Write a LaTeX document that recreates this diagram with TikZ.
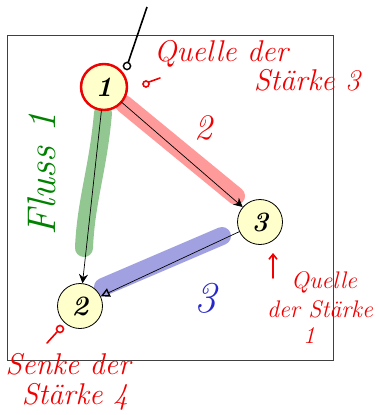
\documentclass[tikz,border=0pt]{standalone}
\usetikzlibrary{arrows.meta,calc}
\definecolor{nodefill}{RGB}{255,255,204}
\definecolor{hlred}{RGB}{255,120,120}
\definecolor{hlgreen}{RGB}{110,180,110}
\definecolor{hlblue}{RGB}{130,130,215}
\definecolor{penred}{RGB}{240,0,0}
\definecolor{pengreen}{RGB}{0,130,0}
\definecolor{penblue}{RGB}{40,40,200}
\tikzset{
  vertex/.style={circle,draw=black,line width=0.8pt,fill=nodefill,minimum size=45pt,inner sep=0pt,font=\fontsize{28}{30}\selectfont\itshape\bfseries},
  hl/.style={line width=18pt,line cap=round,opacity=0.75},
  edge/.style={draw=black,line width=0.7pt,-{Stealth[length=9pt,width=9pt]}},
  openedge/.style={draw=black,line width=0.7pt,-{Triangle[open,length=9pt,width=9pt,line width=1.4pt]}},
  redlabel/.style={text=penred,font=\fontsize{30}{32}\selectfont\itshape,inner sep=0pt},
  smallred/.style={text=penred,font=\fontsize{24}{26}\selectfont\itshape,inner sep=0pt},
  redpen/.style={draw=penred,line width=1.6pt,line cap=round}
}
\begin{document}
\begin{tikzpicture}[x=1pt,y=-1pt]
\useasboundingbox (0,0) rectangle (378,415);
% frame
\draw[draw=black!75,line width=1pt] (7,35) rectangle (333,360);
% highlighter strokes
\draw[hl,hlred] (124,104) -- (236,196);
\draw[hl,hlgreen] (103,113) .. controls (98,170) and (86,200) .. (84,248);
\draw[hl,hlblue] (103,287) -- (222,236);
% nodes
\node[vertex] (n1) at (104,87) {1};
\node[vertex] (n2) at (80,306) {2};
\node[vertex] (n3) at (260,222) {3};
\draw[draw=penred,line width=2.4pt] (n1.center) circle (23pt);
% edges
\draw[edge] (n1) -- (n3);
\draw[edge] (n1) -- (n2);
\draw[openedge] (n3) -- (n2);
% top line with small ring
\coordinate (ring) at (127,66);
\coordinate (topend) at (147,7);
\coordinate (ringtop) at (128.2,62.4);
\draw[black,line width=1.6pt] (topend) -- (ringtop);
\draw[black,line width=1.4pt] (ring) circle (3.6pt);
% labels
\node[redlabel] (q3a) at (221,54) {Quelle der};
\node[redlabel] (q3b) at (307,80) {St\"arke 3};
\draw[redpen] (146,84) circle (3pt);
\draw[redpen] (149,82) -- (160,78);
\node[text=penred,font=\fontsize{36}{36}\selectfont\itshape] (l2) at (203,128) {2};
\node[text=pengreen,font=\fontsize{40}{40}\selectfont\itshape,rotate=90] (fl) at (42,174) {Fluss 1};
\node[text=penblue,font=\fontsize{44}{44}\selectfont\itshape] (l3) at (205,298) {3};
\coordinate (arrbot) at (273,278);
\coordinate (arrtop) at (273,253);
\draw[redpen,-{Straight Barb[length=5pt,width=8pt]}] (arrbot) -- (arrtop);
\node[smallred] (q1a) at (324,282) {Quelle};
\node[smallred] (q1b) at (320,309) {der St\"arke};
\node[smallred] (q1c) at (309,336) {1};
\node[redlabel] (s4a) at (68,364) {Senke der};
\node[redlabel] (s4b) at (75,397) {St\"arke 4};
\draw[redpen] (60,329) circle (3.5pt);
\draw[redpen] (57,332) -- (47,343);
\end{tikzpicture}
\end{document}
